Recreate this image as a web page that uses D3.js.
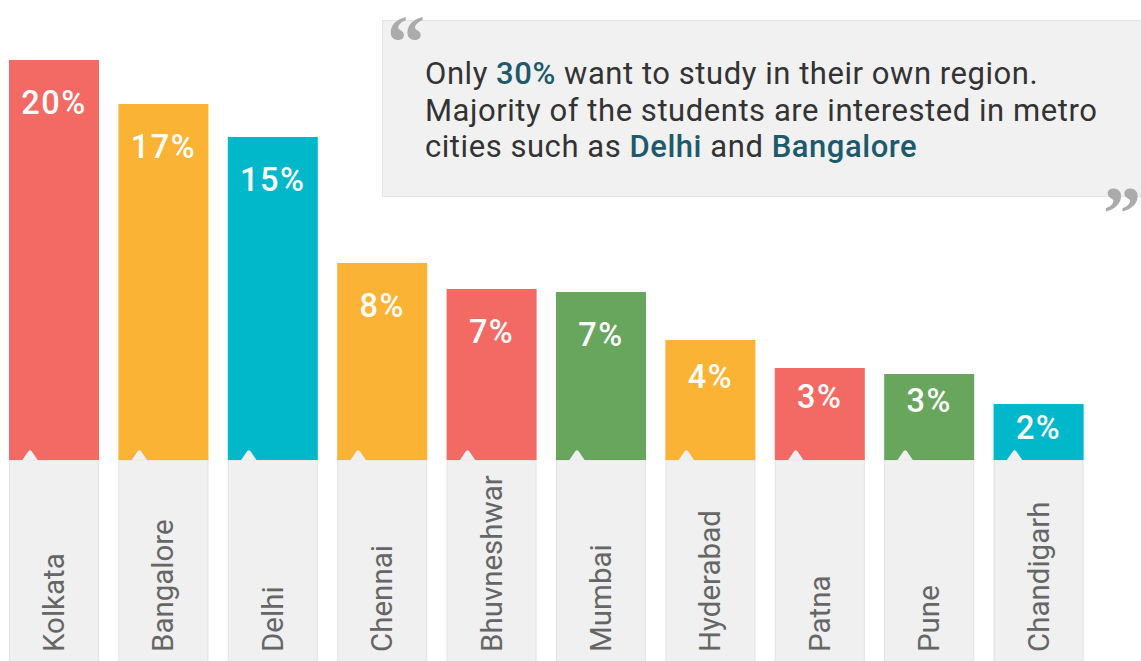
<!DOCTYPE html>
<html>
<head>
<meta charset="utf-8">
<script src="https://cdn.jsdelivr.net/npm/d3@7"></script>
<style>
  html, body { margin: 0; padding: 0; background: #fff; }
  svg { display: block; font-family: Roboto, "Noto Sans", sans-serif; }
</style>
</head>
<body>
<svg id="chart" width="1141" height="661"></svg>
<script>
// DATA
const cities = ['Kolkata', 'Bangalore', 'Delhi', 'Chennai', 'Bhuvneshwar', 'Mumbai', 'Hyderabad', 'Patna', 'Pune', 'Chandigarh'];
// bar heights (percent units)
const shares = [20, 17.8, 16.15, 9.85, 8.55, 8.4, 6, 4.6, 4.3, 2.8];
// printed labels
const shareLabels = ['20%', '17%', '15%', '8%', '7%', '7%', '4%', '3%', '3%', '2%'];
const colorKeys = ['red', 'orange', 'cyan', 'orange', 'red', 'green', 'orange', 'red', 'green', 'cyan'];
const quoteLines = [
    [['Only ', false], ['30%', true], [' want to study in their own region.', false]],
    [['Majority of the students are interested in metro', false]],
    [['cities such as ', false], ['Delhi', true], [' and ', false], ['Bangalore', true]]
];

const svg = d3.select('#chart');
const baseline = 460;

// SCALES
const x = d3.scaleBand()
    .domain(cities)
    .range([9, 1083.6])
    .paddingInner(0.177)
    .paddingOuter(0);

const y = d3.scaleLinear().domain([0, 20]).range([baseline, 60]);

const color = d3.scaleOrdinal()
    .domain(['red', 'orange', 'cyan', 'green'])
    .range(['#f26a63', '#fbb335', '#00b8ca', '#68a65e']);

// QUOTE BOX
const q = svg.append('g');
q.append('rect')
    .attr('x', 382.5).attr('y', 20.5)
    .attr('width', 800).attr('height', 176)
    .attr('fill', '#f1f1f1')
    .attr('stroke', '#e4e4e4');

q.append('text')
    .attr('x', 387).attr('y', 68)
    .attr('font-family', '"Liberation Serif", serif')
    .attr('font-size', 76).attr('font-weight', 700)
    .attr('fill', '#ababab')
    .text('\u201C');

q.append('text')
    .attr('x', 1103).attr('y', 239)
    .attr('font-family', '"Liberation Serif", serif')
    .attr('font-size', 76).attr('font-weight', 700)
    .attr('fill', '#ababab')
    .text('\u201D');

const qt = q.append('text')
    .attr('font-size', 31)
    .attr('letter-spacing', 0.55)
    .attr('fill', '#333');

quoteLines.forEach((line, i) => {
    const l = qt.append('tspan').attr('x', 425).attr('y', 84 + i * 36.5);
    line.forEach(([s, hi]) => {
        l.append('tspan')
            .attr('fill', hi ? '#1d5a6b' : '#333')
            .attr('font-weight', hi ? 500 : 400)
            .text(s);
    });
});

// LABEL BOXES
const g = svg.append('g');
const boxes = g.selectAll('.box')
    .data(cities)
    .enter()
    .append('g')
    .attr('class', 'box');

boxes.append('rect')
    .attr('x', d => x(d) + 0.5)
    .attr('y', baseline)
    .attr('width', x.bandwidth() - 1)
    .attr('height', 210)
    .attr('fill', '#f0f0f0')
    .attr('stroke', '#e2e2e2');

boxes.append('text')
    .attr('transform', d => `translate(${x(d) + x.bandwidth() / 2 + 10},652) rotate(-90)`)
    .attr('font-size', 29.5)
    .attr('fill', '#666')
    .text(d => d);

// BARS
const bars = g.selectAll('.bar')
    .data(cities.map((c, i) => ({ city: c, value: shares[i], label: shareLabels[i], key: colorKeys[i] })))
    .enter()
    .append('g')
    .attr('class', 'bar');

bars.append('rect')
    .attr('x', d => x(d.city))
    .attr('y', d => y(d.value))
    .attr('width', x.bandwidth())
    .attr('height', d => baseline - y(d.value))
    .attr('fill', d => color(d.key));

// pointer notch
bars.append('path')
    .attr('d', d => {
        const px = x(d.city) + 21;
        return `M${px - 8},${baseline + 0.5} L${px - 1.5},${baseline - 9} Q${px},${baseline - 10.5} ${px + 1.5},${baseline - 9} L${px + 8},${baseline + 0.5} Z`;
    })
    .attr('fill', '#f0f0f0');

// value label sits lower in tall bars, higher in short ones
bars.append('text')
    .attr('x', d => x(d.city) + x.bandwidth() / 2)
    .attr('y', d => {
        const h = baseline - y(d.value);
        return y(d.value) + Math.max(35, Math.min(54, 12 + h * 0.3));
    })
    .attr('text-anchor', 'middle')
    .attr('font-size', 32.5)
    .attr('letter-spacing', 1.5)
    .attr('font-weight', 500)
    .attr('fill', '#fff')
    .text(d => d.label);
</script>
</body>
</html>
